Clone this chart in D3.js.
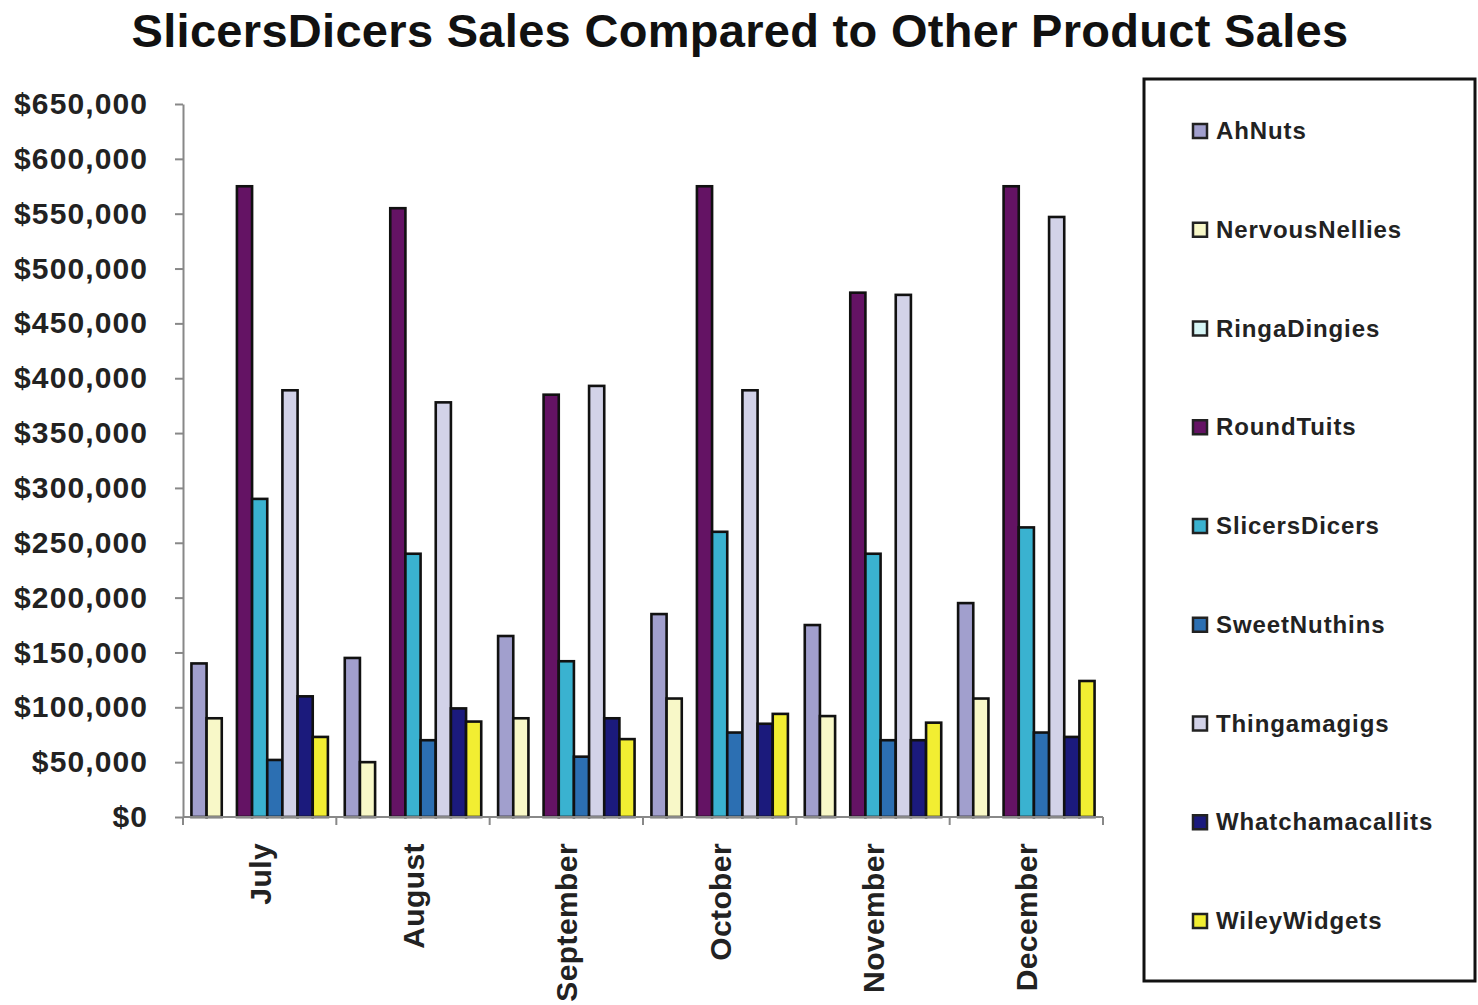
<!DOCTYPE html>
<html>
<head>
<meta charset="utf-8">
<script src="https://cdn.jsdelivr.net/npm/d3@7"></script>
<style>
  body { margin: 0; background: #fff; }
  svg { display: block; font-family: "Liberation Sans", Arial, sans-serif; }
</style>
</head>
<body>
<svg id="chart" width="1478" height="1005"></svg>
<script>
const months = ["July", "August", "September", "October", "November", "December"];
const seriesNames = ["AhNuts", "NervousNellies", "RingaDingies", "RoundTuits", "SlicersDicers",
                     "SweetNuthins", "Thingamagigs", "Whatchamacallits", "WileyWidgets"];
const AhNuts           = [140000, 145000, 165000, 185000, 175000, 195000];
const NervousNellies   = [90000, 50000, 90000, 108000, 92000, 108000];
const RingaDingies     = [0, 0, 0, 0, 0, 0];
const RoundTuits       = [575000, 555000, 385000, 575000, 478000, 575000];
const SlicersDicers    = [290000, 240000, 142000, 260000, 240000, 264000];
const SweetNuthins     = [52000, 70000, 55000, 77000, 70000, 77000];
const Thingamagigs     = [389000, 378000, 393000, 389000, 476000, 547000];
const Whatchamacallits = [110000, 99000, 90000, 85000, 70000, 73000];
const WileyWidgets     = [73000, 87000, 71000, 94000, 86000, 124000];
const yTicks = [0, 50000, 100000, 150000, 200000, 250000, 300000, 350000, 400000, 450000, 500000, 550000, 600000, 650000];
const colors = ["#a19fcd", "#f8f8c8", "#d6f6f6", "#641364", "#3ab2d0",
                "#2c6fb2", "#d2d2e8", "#1b1a7c", "#f2ee32"];
const seriesValues = [AhNuts, NervousNellies, RingaDingies, RoundTuits, SlicersDicers,
                      SweetNuthins, Thingamagigs, Whatchamacallits, WileyWidgets];

const svg = d3.select("#chart");
const plotLeft = 183, plotRight = 1103, plotTop = 104, plotBottom = 817;

const x0 = d3.scaleBand().domain(months).range([plotLeft, plotRight]).paddingInner(0.11).paddingOuter(0.055);
const x1 = d3.scaleBand().domain(seriesNames).range([0, x0.bandwidth()]).padding(0);
const y = d3.scaleLinear().domain([0, 650000]).range([plotBottom, plotTop]);
const color = d3.scaleOrdinal().domain(seriesNames).range(colors);

// Title
svg.append("text")
  .attr("x", 740).attr("y", 47)
  .attr("text-anchor", "middle")
  .attr("font-size", 47).attr("font-weight", "bold")
  .attr("letter-spacing", 0.3)
  .attr("fill", "#111")
  .text("SlicersDicers Sales Compared to Other Product Sales");

// Bars
const flat = [];
months.forEach((m, i) => {
  seriesNames.forEach((s, j) => flat.push({ month: m, series: s, value: seriesValues[j][i] }));
});
svg.append("g").selectAll("rect")
  .data(flat.filter(d => d.value > 0))
  .join("rect")
  .attr("x", d => x0(d.month) + x1(d.series))
  .attr("y", d => y(d.value))
  .attr("width", x1.bandwidth())
  .attr("height", d => y(0) - y(d.value))
  .attr("fill", d => color(d.series))
  .attr("stroke", "#111")
  .attr("stroke-width", 2.6);

// Y axis
const yAxis = svg.append("g")
  .attr("transform", `translate(${plotLeft},0)`)
  .call(d3.axisLeft(y).tickValues(yTicks).tickSize(8).tickSizeOuter(0)
        .tickFormat(d => "$" + d3.format(",")(d)).tickPadding(27));
yAxis.select(".domain").attr("stroke", "#888").attr("stroke-width", 2);
yAxis.selectAll(".tick line").attr("stroke", "#888").attr("stroke-width", 2);
yAxis.selectAll(".tick text")
  .attr("font-size", 30).attr("font-weight", "bold").attr("fill", "#222")
  .attr("letter-spacing", 1.1)
  .attr("font-family", "Liberation Sans, Arial, sans-serif");

// X axis
const xAxisG = svg.append("g").attr("transform", `translate(0,${plotBottom})`);
xAxisG.append("line")
  .attr("x1", plotLeft).attr("x2", plotRight).attr("y1", 0).attr("y2", 0)
  .attr("stroke", "#888").attr("stroke-width", 2);
const bounds = months.map(m => x0(m) - x0.step() * x0.paddingInner() / 2);
bounds.push(plotRight);
xAxisG.selectAll("line.tk")
  .data(bounds)
  .join("line").attr("class", "tk")
  .attr("x1", d => d).attr("x2", d => d)
  .attr("y1", 0).attr("y2", 8)
  .attr("stroke", "#888").attr("stroke-width", 2);
xAxisG.selectAll("text")
  .data(months)
  .join("text")
  .attr("transform", d => `translate(${x0(d) + x0.bandwidth() / 2 + 11},26) rotate(-90)`)
  .attr("text-anchor", "end")
  .attr("font-size", 30).attr("font-weight", "bold").attr("fill", "#222")
  .attr("letter-spacing", 0.4)
  .text(d => d);

// Legend
const lg = svg.append("g");
lg.append("rect")
  .attr("x", 1144).attr("y", 79).attr("width", 331).attr("height", 902)
  .attr("fill", "#fff").attr("stroke", "#111").attr("stroke-width", 3);
const ly = d3.scalePoint().domain(seriesNames).range([131, 921]);
const items = lg.selectAll("g.item").data(seriesNames).join("g").attr("class", "item")
  .attr("transform", d => `translate(1192,${ly(d)})`);
items.append("rect")
  .attr("x", 1).attr("y", -7).attr("width", 14).attr("height", 14)
  .attr("fill", d => color(d)).attr("stroke", "#222").attr("stroke-width", 2.5);
items.append("text")
  .attr("x", 24).attr("y", 8)
  .attr("font-size", 24).attr("font-weight", "bold").attr("fill", "#222")
  .attr("letter-spacing", 0.9)
  .text(d => d);
</script>
</body>
</html>
